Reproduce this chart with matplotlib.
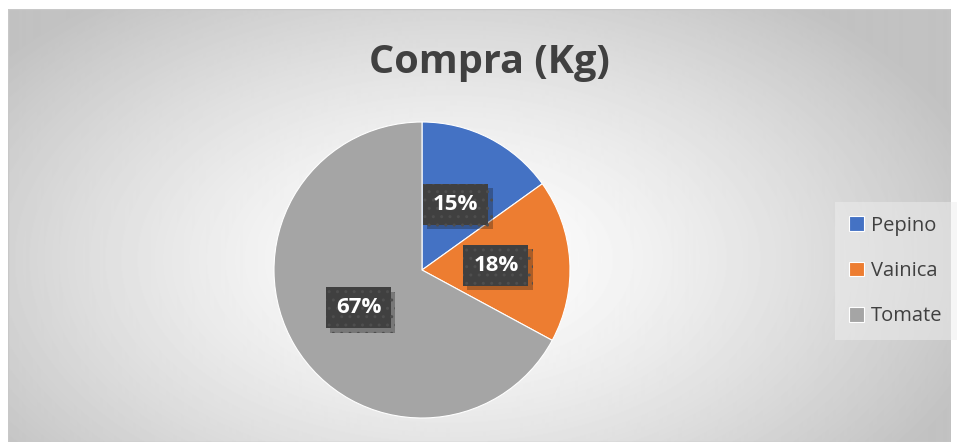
import numpy as np
from matplotlib import pyplot as plt
from matplotlib import patheffects as pe
from matplotlib.patches import Rectangle

categories = ["Pepino", "Vainica", "Tomate"]
kilos = [45, 53, 200]
colors = ["#4472C4", "#ED7D31", "#A5A5A5"]
title = "Compra (Kg)"

W, H = 958, 442
fig = plt.figure(figsize=(W / 100, H / 100), dpi=100)
fig.patch.set_facecolor("white")

# radial gradient background of the chart area
bg = fig.add_axes([8 / W, 0, 942 / W, 1 - 9 / H])
bg.axis("off")
yy, xx = np.mgrid[0:433, 0:942]
r = np.hypot((xx - 440) / 560, (yy - 250) / 330)
val = 1.0 - 0.24 * np.clip(r, 0, 1) ** 1.4
bg.imshow(val, cmap="gray", vmin=0, vmax=1, aspect="auto",
          extent=[0, 1, 0, 1], origin="upper")
bg.set_xlim(0, 1)
bg.set_ylim(0, 1)
bg.add_patch(Rectangle((0, 0), 1, 1, fill=False, ec="#c8c8c8", lw=1,
                       transform=bg.transAxes))

fig.text(489 / W, 1 - 63 / H, title, ha="center", va="center",
         fontsize=28.5, fontweight="bold", color="#404040", family="Open Sans")

R = 148
ax = fig.add_axes([(422 - R) / W, 1 - (270 + R) / H, 2 * R / W, 2 * R / H])
wedges, _, autotexts = ax.pie(
    kilos, colors=colors, startangle=90, counterclock=False,
    autopct="%1.0f%%", pctdistance=0.5,
    wedgeprops=dict(edgecolor="white", linewidth=0.8),
    textprops=dict(color="white", fontsize=16, fontweight="bold",
                   family="Open Sans"))
ax.set_xlim(-1, 1)
ax.set_ylim(-1, 1)
for t in autotexts:
    t.set_bbox(dict(boxstyle="square,pad=0.45", facecolor="#404040",
                    edgecolor="#4e4e4e", hatch="..", linewidth=0))
    t.get_bbox_patch().set_path_effects(
        [pe.SimplePatchShadow(offset=(3, -3), alpha=0.3), pe.Normal()])

leg = fig.legend(wedges, categories, loc="center left",
                 bbox_to_anchor=(835 / W, 1 - 271 / H), frameon=True,
                 fancybox=False, framealpha=0.5, edgecolor="none",
                 facecolor="#eeeeee", handlelength=0.75, handleheight=0.75,
                 handletextpad=0.35, labelspacing=1.25, borderpad=0.7,
                 borderaxespad=0,
                 prop=dict(family="Open Sans", size=14.5))
for t in leg.get_texts():
    t.set_color("#404040")

fig.savefig("out.png", dpi=100)
